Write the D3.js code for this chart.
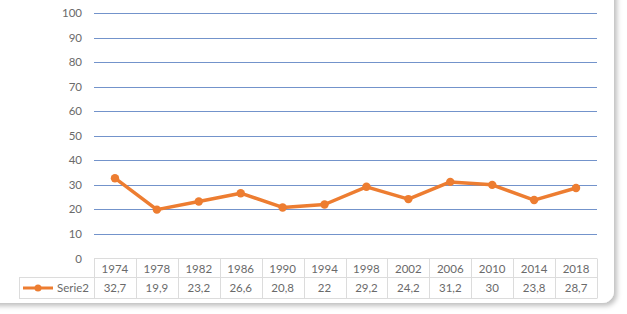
<!DOCTYPE html>
<html>
<head>
<meta charset="utf-8">
<script src="https://cdn.jsdelivr.net/npm/d3@7"></script>
<style>
  body { margin: 0; background: #fff; }
  svg { display: block; font-family: Lato, "Open Sans", sans-serif; }
</style>
</head>
<body>
<div id="chart"></div>
<script>
const years = ["1974", "1978", "1982", "1986", "1990", "1994", "1998", "2002", "2006", "2010", "2014", "2018"];
const serie2 = [32.7, 19.9, 23.2, 26.6, 20.8, 22, 29.2, 24.2, 31.2, 30, 23.8, 28.7];
const seriesName = "Serie2";
const yTicks = [0, 10, 20, 30, 40, 50, 60, 70, 80, 90, 100];

function init() {
  const W = 627, H = 314;
  const plot = { left: 94, right: 597, top: 13, bottom: 258.5 };
  const rowH = [19, 21];
  const legendLeft = 19;
  const orange = "#ED7D31";
  const textCol = "#6a6a6a";
  const border = "#dcdcdc";

  const svg = d3.select("#chart").append("svg").attr("width", W).attr("height", H);

  const defs = svg.append("defs");
  const f = defs.append("filter").attr("id", "shadow")
    .attr("x", "-5%").attr("y", "-5%").attr("width", "115%").attr("height", "120%");
  f.append("feDropShadow").attr("dx", 3).attr("dy", 3).attr("stdDeviation", 2.5)
    .attr("flood-color", "#000").attr("flood-opacity", 0.25);

  // card
  svg.append("rect")
    .attr("x", -20).attr("y", -20).attr("width", 634).attr("height", 323)
    .attr("rx", 12).attr("fill", "#fff").attr("filter", "url(#shadow)");

  const x = d3.scaleBand().domain(years).range([plot.left, plot.right]);
  const y = d3.scaleLinear().domain([0, 100]).range([plot.bottom, plot.top]);

  // gridlines
  svg.append("g").selectAll("line")
    .data(yTicks.filter(d => d > 0))
    .join("line")
    .attr("x1", plot.left).attr("x2", plot.right)
    .attr("y1", d => Math.round(y(d)) + 0.5).attr("y2", d => Math.round(y(d)) + 0.5)
    .attr("stroke", "#7393cb").attr("stroke-width", 1);

  // y labels
  svg.append("g").selectAll("text")
    .data(yTicks)
    .join("text")
    .attr("x", 82).attr("y", d => y(d))
    .attr("dy", "0.35em").attr("text-anchor", "end")
    .attr("font-size", "11.5px").attr("fill", textCol)
    .text(d => d);

  // data table
  const t = svg.append("g").attr("stroke", border).attr("stroke-width", 1).attr("fill", "none");
  const r0 = plot.bottom, r1 = r0 + rowH[0], r2 = r1 + rowH[1];
  t.append("line").attr("x1", plot.left).attr("x2", plot.right).attr("y1", r0).attr("y2", r0);
  t.append("line").attr("x1", legendLeft).attr("x2", plot.right).attr("y1", r1).attr("y2", r1);
  t.append("line").attr("x1", legendLeft).attr("x2", plot.right).attr("y1", r2).attr("y2", r2);
  t.append("line").attr("x1", legendLeft + 0.5).attr("x2", legendLeft + 0.5).attr("y1", r1).attr("y2", r2);
  t.selectAll("line.v").data(years.concat(["end"])).join("line").attr("class", "v")
    .attr("x1", (d, i) => Math.round(plot.left + i * x.bandwidth()) + 0.5)
    .attr("x2", (d, i) => Math.round(plot.left + i * x.bandwidth()) + 0.5)
    .attr("y1", r0).attr("y2", r2);

  svg.append("g").selectAll("text").data(years).join("text")
    .attr("x", d => x(d) + x.bandwidth() / 2).attr("y", (r0 + r1) / 2 + 1)
    .attr("dy", "0.35em").attr("text-anchor", "middle")
    .attr("font-size", "11.5px").attr("fill", textCol).text(d => d);

  svg.append("g").selectAll("text").data(serie2).join("text")
    .attr("x", (d, i) => x(years[i]) + x.bandwidth() / 2).attr("y", (r1 + r2) / 2)
    .attr("dy", "0.35em").attr("text-anchor", "middle")
    .attr("font-size", "11.5px").attr("fill", textCol)
    .text(d => String(d).replace(".", ","));

  // legend key
  const ly = (r1 + r2) / 2;
  svg.append("line").attr("x1", 23).attr("x2", 53).attr("y1", ly).attr("y2", ly)
    .attr("stroke", orange).attr("stroke-width", 3);
  svg.append("circle").attr("cx", 38).attr("cy", ly).attr("r", 3.5).attr("fill", orange);
  svg.append("text").attr("x", 89).attr("y", ly).attr("dy", "0.35em")
    .attr("text-anchor", "end").attr("font-size", "11.5px").attr("fill", textCol).text(seriesName);

  // line
  const line = d3.line()
    .x((d, i) => x(years[i]) + x.bandwidth() / 2)
    .y(d => y(d));
  svg.append("path").datum(serie2).attr("d", line)
    .attr("fill", "none").attr("stroke", orange).attr("stroke-width", 3.5)
    .attr("stroke-linejoin", "round").attr("stroke-linecap", "round");
  svg.append("g").selectAll("circle").data(serie2).join("circle")
    .attr("cx", (d, i) => x(years[i]) + x.bandwidth() / 2).attr("cy", d => y(d))
    .attr("r", 4.2).attr("fill", orange);
}

window.addEventListener("load", init);
</script>
</body>
</html>
